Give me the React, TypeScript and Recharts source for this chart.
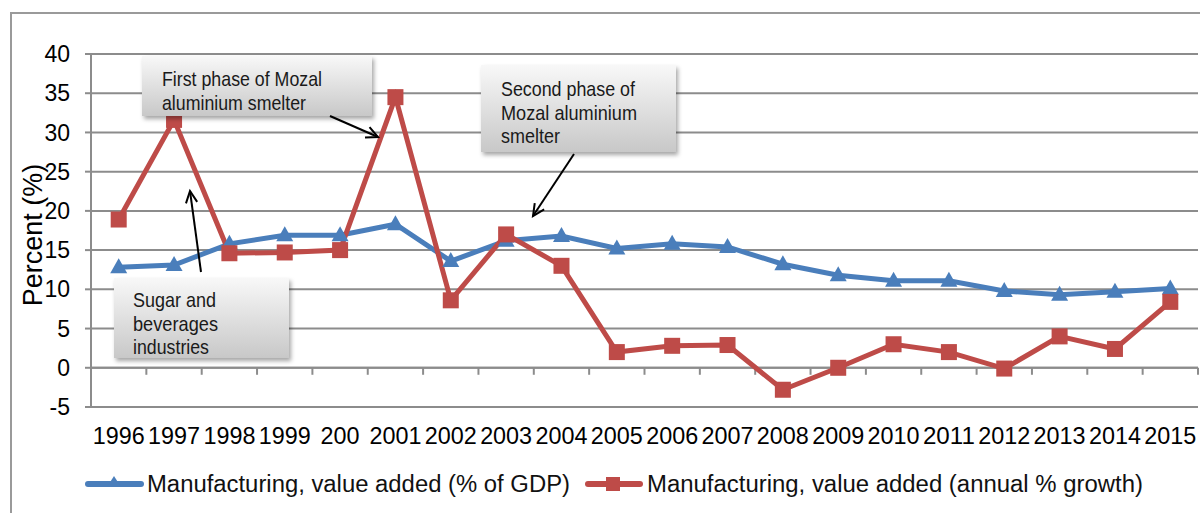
import React from 'react';
import { LineChart, Line, XAxis, YAxis, CartesianGrid, ReferenceLine } from 'recharts';

const years = ['1996', '1997', '1998', '1999', '200', '2001', '2002', '2003', '2004', '2005', '2006', '2007', '2008', '2009', '2010', '2011', '2012', '2013', '2014', '2015'];
const shareOfGdp = [12.8, 13.1, 15.8, 16.9, 16.9, 18.3, 13.6, 16.2, 16.8, 15.2, 15.8, 15.4, 13.2, 11.8, 11.1, 11.1, 9.8, 9.3, 9.7, 10.1];
const annualGrowth = [18.9, 31.6, 14.6, 14.7, 15.0, 34.5, 8.6, 17.0, 13.0, 2.0, 2.8, 2.9, -2.8, 0.0, 3.0, 2.0, -0.1, 4.0, 2.4, 8.4];
const yTicks = [-5, 0, 5, 10, 15, 20, 25, 30, 35, 40];

const blueName = 'Manufacturing, value added (% of GDP)';
const redName = 'Manufacturing, value added (annual % growth)';

const BLUE = '#4a7ebb';
const RED = '#be4b48';
const GRID = '#8c8c8c';
const FONT = '"Liberation Sans", Arial, sans-serif';
const NOTE_FONT = '"Liberation Sans Narrow", "Liberation Sans", Arial, sans-serif';

const data = years.map((year, i) => ({ year, gdp: shareOfGdp[i], growth: annualGrowth[i] }));

const Triangle = (p: any) => (
  <path
    key={`tri-${p.index}`}
    d={`M${p.cx},${p.cy - 9} L${p.cx + 8.5},${p.cy + 6} L${p.cx - 8.5},${p.cy + 6} Z`}
    fill={BLUE}
  />
);

const Square = (p: any) => (
  <rect key={`sq-${p.index}`} x={p.cx - 8} y={p.cy - 8} width={16} height={16} fill={RED} />
);

// year labels are a bit wide in the original, stretch them to fit
const YearTick = (p: any) => {
  const label = String(p.payload.value);
  return (
    <text
      x={p.x}
      y={p.y + 17}
      textAnchor="middle"
      fontFamily={FONT}
      fontSize={23.5}
      fill="#000"
      textLength={label.length * 13}
      lengthAdjust="spacingAndGlyphs"
    >
      {label}
    </text>
  );
};

// zero line with category tick marks hanging below it
const ZeroAxis = (p: any) => {
  const { x1, y1, x2 } = p;
  const step = (x2 - x1) / years.length;
  return (
    <g>
      <line x1={x1} y1={y1} x2={x2} y2={y1} stroke={GRID} strokeWidth={2} />
      {years.map((_, i) => (
        <line key={i} x1={x1 + step * (i + 1)} y1={y1} x2={x1 + step * (i + 1)} y2={y1 + 7} stroke={GRID} strokeWidth={2} />
      ))}
    </g>
  );
};

const notes = [
  { x: 142, y: 56, w: 230, h: 60, lines: [['First phase of Mozal', 160], ['aluminium smelter', 144]], base: 86, tx: 162 },
  { x: 481, y: 65, w: 195, h: 87, lines: [['Second phase of', 134], ['Mozal aluminium', 136], ['smelter', 59]], base: 96, tx: 501 },
  { x: 114, y: 278, w: 175, h: 80, lines: [['Sugar and', 83], ['beverages', 85], ['industries', 76]], base: 307, tx: 133 },
];

const arrows = [
  { x1: 330, y1: 116, x2: 378, y2: 137 },
  { x1: 574, y1: 154, x2: 533, y2: 216 },
  { x1: 201, y1: 272, x2: 190, y2: 191 },
];

function Overlay() {
  return (
    <svg width={1200} height={513} style={{ position: 'absolute', left: 0, top: 0, pointerEvents: 'none' }}>
      <defs>
        <linearGradient id="noteFill" x1="0" y1="0" x2="0" y2="1">
          <stop offset="0" stopColor="#f8f8f8" />
          <stop offset="1" stopColor="#c8c8c8" />
        </linearGradient>
        <filter id="noteShadow" x="-10%" y="-10%" width="130%" height="140%">
          <feDropShadow dx="2" dy="3" stdDeviation="2" floodColor="#000" floodOpacity="0.35" />
        </filter>
      </defs>
      <text
        transform="translate(42,235) rotate(-90)"
        textAnchor="middle"
        fontFamily={FONT}
        fontSize={27}
        fill="#000"
      >
        Percent (%)
      </text>
      {notes.map((n, i) => (
        <g key={i}>
          <rect x={n.x} y={n.y} width={n.w} height={n.h} fill="url(#noteFill)" filter="url(#noteShadow)" />
          {n.lines.map(([t, len], j) => (
            <text
              key={j}
              x={n.tx}
              y={n.base + j * 23.5}
              fontFamily={NOTE_FONT}
              fontSize={21}
              fill="#1a1a1a"
              textLength={len as number}
              lengthAdjust="spacingAndGlyphs"
            >
              {t}
            </text>
          ))}
        </g>
      ))}
      {arrows.map((a, i) => {
        const ang = Math.atan2(a.y2 - a.y1, a.x2 - a.x1);
        const hl = 13;
        const spread = 0.45;
        const h1x = a.x2 - hl * Math.cos(ang - spread);
        const h1y = a.y2 - hl * Math.sin(ang - spread);
        const h2x = a.x2 - hl * Math.cos(ang + spread);
        const h2y = a.y2 - hl * Math.sin(ang + spread);
        return (
          <g key={i} stroke="#000" strokeWidth={2} fill="none">
            <line x1={a.x1} y1={a.y1} x2={a.x2} y2={a.y2} />
            <polyline points={`${h1x},${h1y} ${a.x2},${a.y2} ${h2x},${h2y}`} />
          </g>
        );
      })}
    </svg>
  );
}

function LegendRow() {
  return (
    <svg width={1200} height={40} style={{ position: 'absolute', left: 0, top: 465 }}>
      <line x1={88} y1={19} x2={141} y2={19} stroke={BLUE} strokeWidth={6} strokeLinecap="round" />
      <path d="M114,11 L121,22 L107,22 Z" fill={BLUE} />
      <text x={147} y={27} fontFamily={FONT} fontSize={23} fill="#111" textLength={423} lengthAdjust="spacingAndGlyphs">{blueName}</text>
      <line x1={588} y1={19} x2={640} y2={19} stroke={RED} strokeWidth={6} strokeLinecap="round" />
      <rect x={606} y={12} width={14} height={14} fill={RED} />
      <text x={647} y={27} fontFamily={FONT} fontSize={23} fill="#111" textLength={496} lengthAdjust="spacingAndGlyphs">{redName}</text>
    </svg>
  );
}

export default function App() {
  return (
    <div style={{ position: 'absolute', left: 0, top: 0, width: 1200, height: 513, overflow: 'hidden', background: '#fff' }}>
      <div style={{ position: 'absolute', left: 10, top: 12, width: 1300, height: 600, border: '2px solid #9a9a9a' }} />
      <div style={{ position: 'absolute', left: 0, top: 0 }}>
        <LineChart width={1200} height={513} data={data} margin={{ top: 54, right: 2, bottom: 66, left: 41 }}>
          <CartesianGrid vertical={false} stroke={GRID} strokeWidth={2} />
          <XAxis
            dataKey="year"
            interval={0}
            padding={{ left: 27.7, right: 27.7 }}
            axisLine={false}
            tickLine={false}
            tickMargin={14}
            height={40}
            tick={YearTick}
          />
          <YAxis
            width={50}
            domain={[-5, 40]}
            ticks={yTicks}
            interval={0}
            axisLine={{ stroke: GRID, strokeWidth: 2 }}
            tickLine={{ stroke: GRID, strokeWidth: 2 }}
            tickSize={6}
            tickMargin={15}
            tick={{ fill: '#000', fontSize: 23, fontFamily: FONT }}
          />
          <ReferenceLine y={0} shape={ZeroAxis} />
          <Line
            dataKey="gdp"
            name={blueName}
            stroke={BLUE}
            strokeWidth={5}
            dot={Triangle}
            activeDot={false}
            isAnimationActive={false}
          />
          <Line
            dataKey="growth"
            name={redName}
            stroke={RED}
            strokeWidth={5}
            dot={Square}
            activeDot={false}
            isAnimationActive={false}
          />
        </LineChart>
      </div>
      <Overlay />
      <LegendRow />
    </div>
  );
}
